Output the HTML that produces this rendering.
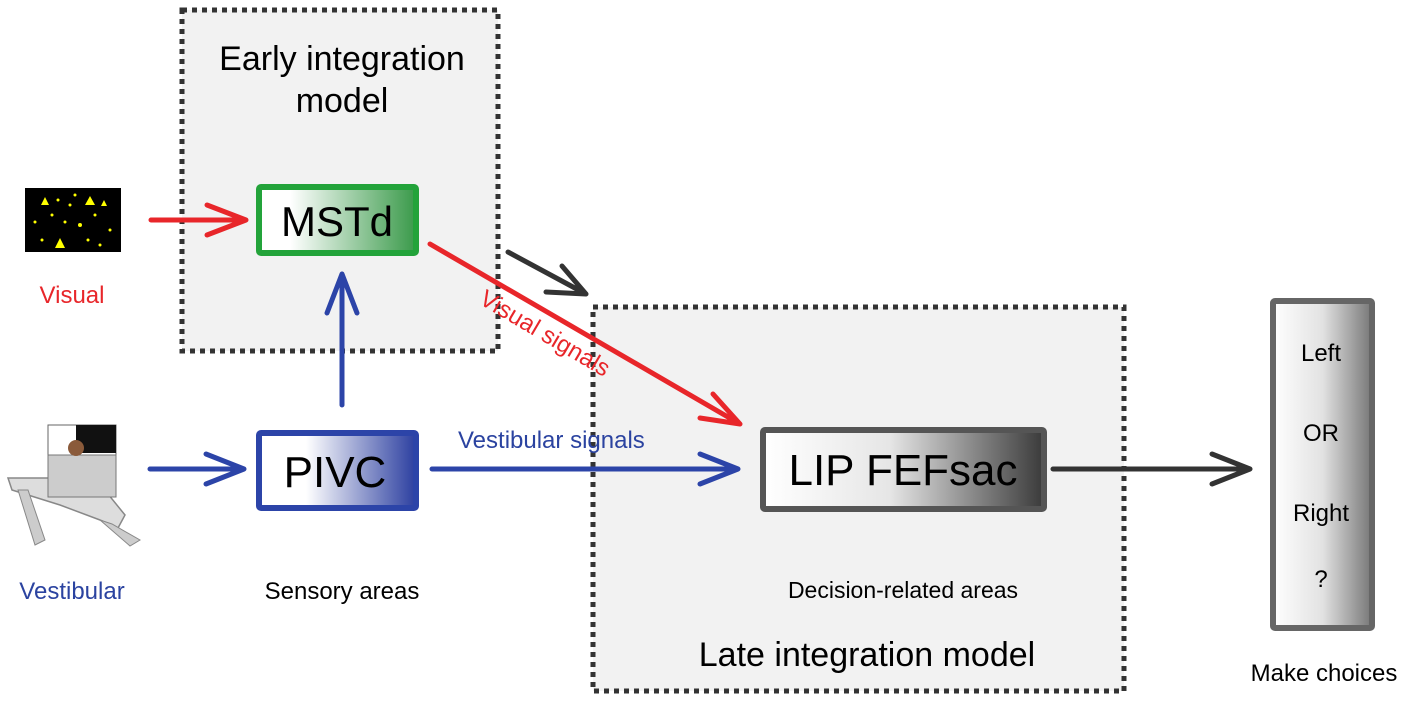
<!DOCTYPE html>
<html><head><meta charset="utf-8"><style>
html,body{margin:0;padding:0;background:#fff;}
svg{display:block;font-family:"Liberation Sans",Arial,sans-serif;}
</style></head><body>
<svg width="1418" height="704" viewBox="0 0 1418 704" xmlns="http://www.w3.org/2000/svg">
<defs>
<linearGradient id="gG" x1="0" x2="1"><stop offset="0.2" stop-color="#fff"/><stop offset="1" stop-color="#3a9a4a"/></linearGradient>
<linearGradient id="gB" x1="0" x2="1"><stop offset="0.3" stop-color="#fff"/><stop offset="1" stop-color="#2c3fa0"/></linearGradient>
<linearGradient id="gK" x1="0" x2="1"><stop offset="0" stop-color="#fff"/><stop offset="0.45" stop-color="#e6e6e6"/><stop offset="1" stop-color="#3a3a3a"/></linearGradient>
<linearGradient id="gC" x1="0" x2="1"><stop offset="0" stop-color="#fff"/><stop offset="0.5" stop-color="#e2e2e2"/><stop offset="1" stop-color="#777"/></linearGradient>
</defs>
<!-- dotted boxes -->
<rect x="182" y="10" width="316" height="341" fill="#f2f2f2" stroke="#333" stroke-width="5" stroke-dasharray="5 5"/>
<rect x="593" y="307" width="531" height="384" fill="#f2f2f2" stroke="#333" stroke-width="5" stroke-dasharray="5 5"/>
<text x="342" y="70" font-size="34" text-anchor="middle">Early integration</text>
<text x="342" y="112" font-size="34" text-anchor="middle">model</text>
<text x="867" y="666" font-size="34" text-anchor="middle">Late integration model</text>
<text x="903" y="598" font-size="23" text-anchor="middle">Decision-related areas</text>
<text x="342" y="599" font-size="24" text-anchor="middle">Sensory areas</text>
<!-- visual stimulus -->
<rect x="25" y="188" width="96" height="64" fill="#000"/>
<g fill="#ff0">
<polygon points="45,197 49,205 41,205"/><polygon points="90,196 95,205 85,205"/><polygon points="60,238 65,248 55,248"/><polygon points="104,200 107,206 101,206"/>
<circle cx="35" cy="222" r="1.5"/><circle cx="52" cy="215" r="1.5"/><circle cx="70" cy="205" r="1.5"/><circle cx="80" cy="225" r="2"/><circle cx="95" cy="215" r="1.5"/><circle cx="110" cy="230" r="1.5"/><circle cx="65" cy="222" r="1.5"/><circle cx="88" cy="240" r="1.5"/><circle cx="42" cy="240" r="1.5"/><circle cx="100" cy="245" r="1.5"/><circle cx="75" cy="195" r="1.5"/><circle cx="58" cy="200" r="1.5"/>
</g>
<text x="72" y="303" font-size="24" fill="#e8262a" text-anchor="middle">Visual</text>
<!-- vestibular platform -->
<polygon points="8,478 95,478 125,515 118,528 100,520 60,505 12,490" fill="#ddd" stroke="#888" stroke-width="1.5"/>
<polygon points="18,490 28,490 45,540 35,545" fill="#ccc" stroke="#888"/>
<polygon points="100,520 112,524 140,540 130,546" fill="#ccc" stroke="#888"/>
<rect x="48" y="425" width="68" height="45" fill="#fff" stroke="#666"/>
<rect x="76" y="425" width="40" height="28" fill="#111"/>
<rect x="48" y="455" width="68" height="42" fill="#ccc" stroke="#777"/>
<circle cx="76" cy="448" r="8" fill="#8a5a3a"/>
<text x="72" y="599" font-size="24" fill="#2b43a0" text-anchor="middle">Vestibular</text>
<!-- nodes -->
<rect x="259" y="187" width="157" height="66" fill="url(#gG)" stroke="#23a33a" stroke-width="6" rx="2"/>
<text x="337" y="236" font-size="42" text-anchor="middle">MSTd</text>
<rect x="259" y="433" width="157" height="75" fill="url(#gB)" stroke="#2c44a8" stroke-width="6" rx="2"/>
<text x="335" y="487" font-size="44" text-anchor="middle">PIVC</text>
<rect x="763" y="430" width="281" height="79" fill="url(#gK)" stroke="#555" stroke-width="6" rx="2"/>
<text x="903" y="485" font-size="44" text-anchor="middle">LIP FEFsac</text>
<rect x="1273" y="301" width="99" height="327" fill="url(#gC)" stroke="#666" stroke-width="6" rx="2"/>
<g font-size="24" text-anchor="middle"><text x="1321" y="361">Left</text><text x="1321" y="441">OR</text><text x="1321" y="521">Right</text><text x="1321" y="587">?</text></g>
<text x="1324" y="681" font-size="24" text-anchor="middle">Make choices</text>
<!-- arrows -->
<g fill="none" stroke-width="5" stroke-linecap="round" stroke-linejoin="round">
<path d="M151,220 H246 M207,205 L246,220 L207,235" stroke="#e8262a"/>
<path d="M150,469 H244 M206,454 L244,469 L206,484" stroke="#2c44a8"/>
<path d="M342,405 V274 M327,313 L342,274 L357,313" stroke="#2c44a8"/>
<path d="M432,469 H738 M700,454 L738,469 L700,484" stroke="#2c44a8"/>
<path d="M430,244 L740,424 M713,394 L740,424 L700,418" stroke="#e8262a"/>
<path d="M508,252 L586,294 M562,266 L586,294 L546,292" stroke="#333"/>
<path d="M1053,469 H1250 M1212,454 L1250,469 L1212,484" stroke="#333"/>
</g>
<text x="458" y="448" font-size="24" fill="#2b43a0">Vestibular signals</text>
<text x="0" y="0" font-size="24" fill="#e8262a" transform="translate(478,303) rotate(30.5)">Visual signals</text>
</svg>
</body></html>
